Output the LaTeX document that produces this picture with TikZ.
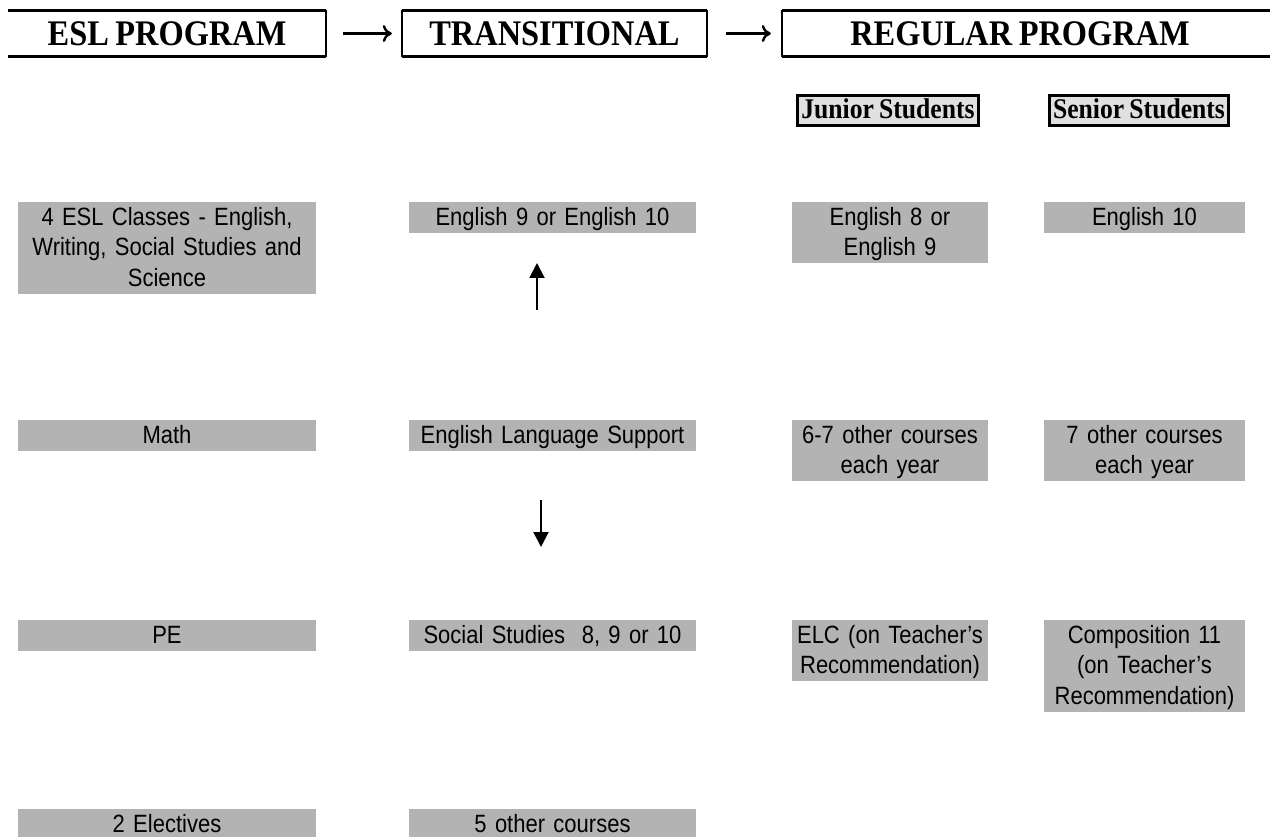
\documentclass[tikz,border=0pt]{standalone}
\usepackage{fontspec}
\setmainfont{Liberation Serif}
\newfontfamily\arialf[FakeStretch=0.88,WordSpace=0.72]{Liberation Sans}
\newfontfamily\timesn[FakeStretch=0.9,WordSpace=0.8]{Liberation Serif}
\usetikzlibrary{arrows.meta}
\definecolor{boxgray}{RGB}{179,179,179}
\definecolor{subgray}{RGB}{224,224,224}
\begin{document}
\begin{tikzpicture}[x=1pt,y=-1pt,
  hdr/.style={minimum height=46pt, inner sep=0pt, text height=25pt, text depth=0pt,
    font=\timesn\fontsize{36}{38}\selectfont\bfseries},
  hline/.style={line width=3.5pt},
  vline/.style={line width=1.6pt},
  harrow/.style={line width=2.4pt, -{To[length=9pt,width=17pt]}},
  subhdr/.style={draw, line width=3pt, fill=subgray, inner sep=0pt, minimum height=30pt,
    text height=21pt, text depth=4pt, font=\timesn\fontsize{28.5}{30}\selectfont\bfseries},
  gbox/.style={fill=boxgray, anchor=north, inner xsep=0pt, inner ysep=0pt, align=center,
    text height=23pt, font=\arialf\fontsize{25}{30.5}\selectfont},
  lone/.style={text depth=7.5pt},
  ltwo/.style={text depth=38pt},
  lthree/.style={text depth=68.5pt},
  colA/.style={text width=298pt},
  colB/.style={text width=287pt},
  colC/.style={text width=196pt},
  colD/.style={text width=201pt},
  varrow/.style={line width=2pt, -{Triangle[length=15pt,width=15pt]}}]
\useasboundingbox (0,0) rectangle (1270,837);
\fill[white] (0,0) rectangle (1270,837);

% header boxes
\node[hdr, minimum width=318pt] (h1) at (167,33.5) {ESL PROGRAM};
\node[hdr, minimum width=305pt] (h2) at (554.5,33.5) {TRANSITIONAL};
\node[hdr, minimum width=476pt] (h3) at (1020,33.5) {REGULAR PROGRAM};
\coordinate (pageR) at (1272,0);

\draw[hline] (h1.north west) -- (h1.north east);
\draw[hline] (h1.south west) -- (h1.south east);
\draw[vline] (h1.north east) -- (h1.south east);

\draw[hline] (h2.north west) -- (h2.north east);
\draw[hline] (h2.south west) -- (h2.south east);
\draw[vline] (h2.north west) -- (h2.south west);
\draw[vline] (h2.north east) -- (h2.south east);

\draw[hline] (h3.north west) -- (h3.north west -| pageR);
\draw[hline] (h3.south west) -- (h3.south west -| pageR);
\draw[vline] (h3.north west) -- (h3.south west);

\draw[harrow, shorten <=17pt, shorten >=10pt] (h1) -- (h2);
\draw[harrow, shorten <=19pt, shorten >=11pt] (h2) -- (h3);

% sub headers
\node[subhdr, minimum width=181pt] (jr) at (888,110.5) {Junior Students};
\node[subhdr, minimum width=179pt] (sr) at (1139,110.5) {Senior Students};

% column A
\node[gbox, colA, lthree] (a1) at (167,202) {4 ESL Classes - English,\\Writing, Social Studies and\\Science};
\node[gbox, colA, lone] (a2) at (167,420) {Math};
\node[gbox, colA, lone] (a3) at (167,620) {PE};
\node[gbox, colA, lone] (a4) at (167,809) {2 Electives};

% column B
\node[gbox, colB, lone] (b1) at (552.5,202) {English 9 or English 10};
\node[gbox, colB, lone] (b2) at (552.5,420) {English Language Support};
\node[gbox, colB, lone] (b3) at (552.5,620) {Social Studies\ \ 8, 9 or 10};
\node[gbox, colB, lone] (b4) at (552.5,809) {5 other courses};

% column C
\node[gbox, colC, ltwo] (c1) at (890,202) {English 8 or\\English 9};
\node[gbox, colC, ltwo] (c2) at (890,420) {6-7 other courses\\each year};
\node[gbox, colC, ltwo] (c3) at (890,620) {ELC (on Teacher’s\\Recommendation)};

% column D
\node[gbox, colD, lone] (d1) at (1144.5,202) {English 10};
\node[gbox, colD, ltwo] (d2) at (1144.5,420) {7 other courses\\each year};
\node[gbox, colD, lthree] (d3) at (1144.5,620) {Composition 11\\(on Teacher’s\\Recommendation)};

% vertical arrows
\coordinate (ua0) at (537,310);
\coordinate (ua1) at (537,263);
\draw[varrow] (ua0) -- (ua1);
\coordinate (da0) at (541,500);
\coordinate (da1) at (541,547);
\draw[varrow] (da0) -- (da1);
\end{tikzpicture}
\end{document}
